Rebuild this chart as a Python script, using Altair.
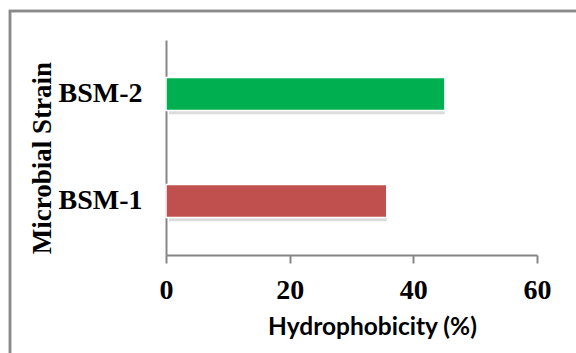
import altair as alt
import pandas as pd

# Cell surface hydrophobicity of the two isolates
strains = ["BSM-1", "BSM-2"]
hydrophobicity = [35.7, 45.1]
colors = ["#C0504D", "#00B050"]

df = pd.DataFrame({"strain": strains, "value": hydrophobicity, "color": colors})

W, H = 371, 215
PAD = {"left": 166, "top": 40, "right": 576 - 166 - W, "bottom": 353 - 40 - H}

serif = "Liberation Serif"

y_enc = alt.Y(
    "strain:N",
    sort=["BSM-2", "BSM-1"],
    scale=alt.Scale(paddingInner=0.69, paddingOuter=0.35),
    axis=alt.Axis(
        title="Microbial Strain",
        titleFont=serif,
        titleFontSize=27,
        titleFontWeight="bold",
        titleColor="black",
        titleX=-124,
        titleY=H / 2 + 10,
        titleBaseline="middle",
        labelFont=serif,
        labelFontSize=28,
        labelFontWeight="bold",
        labelColor="black",
        labelPadding=24,
        ticks=False,
        domainColor="#868686",
        domainWidth=2,
    ),
)

x_scale = alt.Scale(domain=[0, 60])

# soft drop shadow under each bar
shadow = alt.Chart(df).mark_bar(
    color="#9a9a9a", opacity=0.35, xOffset=3, yOffset=4, cornerRadius=1
).encode(
    x=alt.X("value:Q", scale=x_scale),
    y=y_enc,
)

bars = alt.Chart(df).mark_bar(stroke="white", strokeWidth=1.5).encode(
    x=alt.X(
        "value:Q",
        scale=x_scale,
        axis=alt.Axis(
            values=[0, 20, 40, 60],
            title="Hydrophobicity (%)",
            titleFont="Lato",
            titleFontSize=24.5,
            titleFontWeight="bold",
            titleColor="black",
            titleY=72,
            titleX=206,
            titleBaseline="middle",
            labelFont=serif,
            labelFontSize=28,
            labelFontWeight="bold",
            labelColor="black",
            labelPadding=13,
            labelFlush=False,
            tickSize=8,
            tickColor="#868686",
            tickWidth=2,
            domainColor="#868686",
            domainWidth=2,
            grid=False,
        ),
    ),
    y=y_enc,
    color=alt.Color("color:N", scale=None),
)

# outer frame of the figure
frame = alt.Chart(df).mark_rect(
    fill=None, stroke="#8a8a8a", strokeWidth=2.5
).encode(
    x=alt.value(-156),
    x2=alt.value(W + PAD["right"] + 10),
    y=alt.value(-29),
    y2=alt.value(H + PAD["bottom"] + 10),
)

chart = (
    alt.layer(frame, shadow, bars)
    .properties(
        width=W,
        height=H,
        padding=PAD,
        autosize=alt.AutoSizeParams(type="none"),
        background="white",
    )
    .configure_view(stroke=None)
)

chart.save("out.html", embed_options={"renderer": "svg", "actions": False})
